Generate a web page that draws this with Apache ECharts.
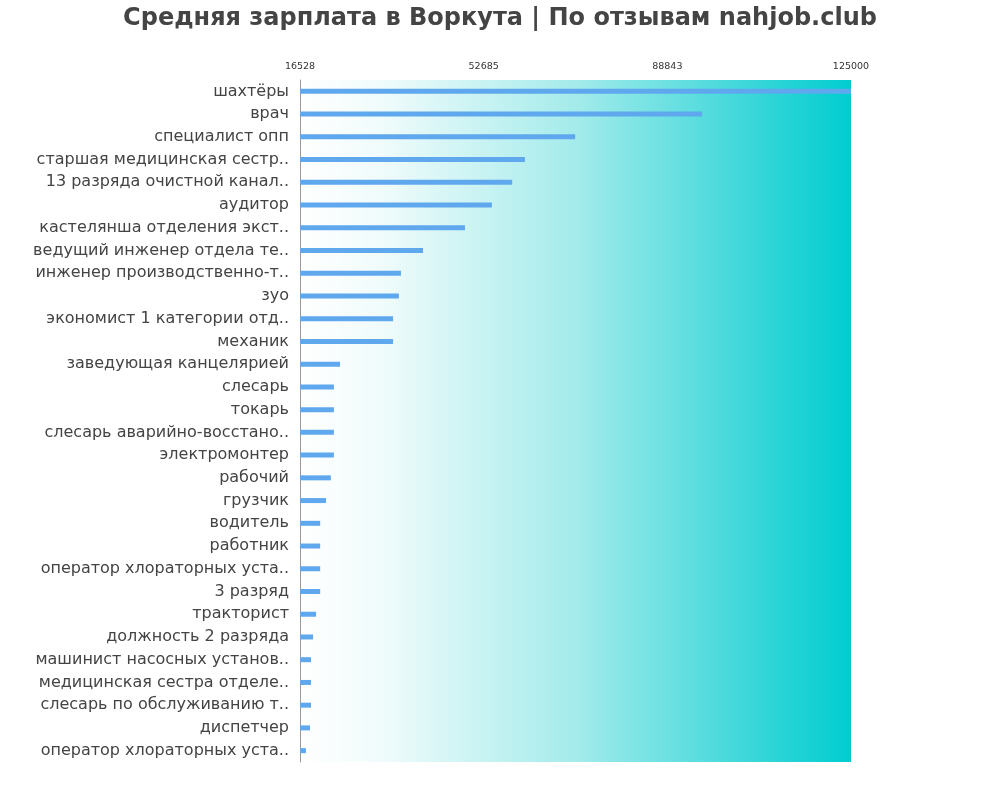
<!DOCTYPE html>
<html><head><meta charset="utf-8">
<script src="https://cdn.jsdelivr.net/npm/echarts@6/dist/echarts.min.js"></script>
<style>html,body{margin:0;padding:0;background:#fff}#c{width:1000px;height:800px}</style>
</head><body><div id="c"></div>
<script>
const categories = ["шахтёры","врач","специалист опп","старшая медицинская сестр..","13 разряда очистной канал..","аудитор","кастелянша отделения экст..","ведущий инженер отдела те..","инженер производственно-т..","зуо","экономист 1 категории отд..","механик","заведующая канцелярией","слесарь","токарь","слесарь аварийно-восстано..","электромонтер","рабочий","грузчик","водитель","работник","оператор хлораторных уста..","3 разряд","тракторист","должность 2 разряда","машинист насосных установ..","медицинская сестра отделе..","слесарь по обслуживанию т..","диспетчер","оператор хлораторных уста.."];
const values = [125000,95700,70700,60800,58300,54300,49000,40750,36400,36000,34850,34850,24400,23200,23200,23200,23200,22600,21650,20500,20500,20500,20500,19700,19100,18700,18700,18700,18500,17700];
const tickMin = 16528, tickMax = 125000;
const chart = echarts.init(document.getElementById('c'));
chart.setOption({
  animation:false,
  title:{text:'Средняя зарплата в Воркута | По отзывам nahjob.club',left:'center',top:2,
    textStyle:{fontSize:24,fontWeight:'bold',color:'#444',fontFamily:'DejaVu Sans'}},
  grid:{left:300,right:149,top:80,bottom:38,show:true,borderWidth:0,
    backgroundColor:new echarts.graphic.LinearGradient(0,0,1,0,[
      {offset:0,color:'#ffffff'},{offset:0.15,color:'#f0fbfb'},{offset:0.5,color:'#a4ebeb'},{offset:0.8,color:'#40d8da'},{offset:1,color:'#00cdd0'}])},
  xAxis:{type:'value',position:'top',min:tickMin,max:tickMax,interval:(tickMax-tickMin)/3,
    axisLabel:{fontSize:9.5,color:'#333',fontFamily:'DejaVu Sans',formatter:v=>Math.round(v)},
    axisLine:{show:false},axisTick:{show:false},splitLine:{show:false}},
  yAxis:{type:'category',inverse:true,data:categories,
    axisLabel:{fontSize:16,color:'#444',fontFamily:'DejaVu Sans',margin:11,padding:[0,0,6,0]},
    axisLine:{show:true,lineStyle:{color:'#999'}},axisTick:{show:false}},
  series:[{type:'bar',data:values,barWidth:5,itemStyle:{color:'#5fa8ee'}}]
});
</script></body></html>
